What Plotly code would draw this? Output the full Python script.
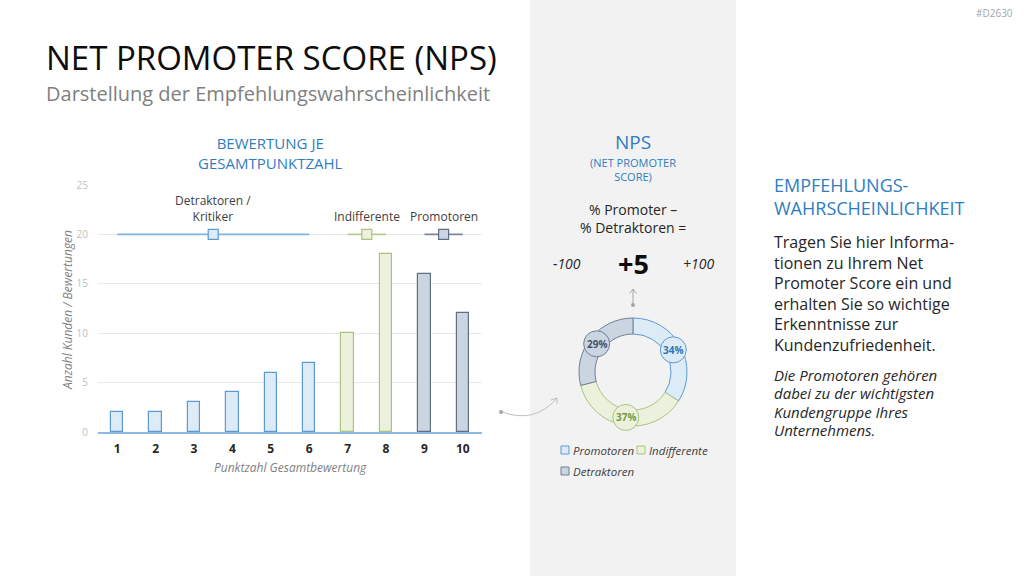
import math
import plotly.graph_objects as go

# ---------------- data ----------------
scores = [1, 2, 3, 4, 5, 6, 7, 8, 9, 10]
counts = [2, 2, 3, 4, 6, 7, 10, 18, 16, 12]
score_groups = ["Detraktoren", "Detraktoren", "Detraktoren", "Detraktoren", "Detraktoren",
                "Detraktoren", "Indifferente", "Indifferente", "Promotoren", "Promotoren"]
group_names = ["Detraktoren", "Indifferente", "Promotoren"]
group_labels = ["Detraktoren /<br>Kritiker", "Indifferente", "Promotoren"]
group_level = 20

donut_labels = ["Promotoren", "Indifferente", "Detraktoren"]
donut_values = [34, 37, 29]
nps_value = "+5"
y_ticks = [0, 5, 10, 15, 20, 25]

body_lines = ["Tragen Sie hier Informa-", "tionen zu Ihrem Net", "Promoter Score ein und",
              "erhalten Sie so wichtige", "Erkenntnisse zur", "Kundenzufriedenheit."]
italic_lines = ["Die Promotoren gehören", "dabei zu der wichtigsten", "Kundengruppe Ihres",
                "Unternehmens."]

# ---------------- styles ----------------
FONT = "Open Sans"
BLUE_TXT = "#2E7DC1"
fill = {"Detraktoren": "#DDEBF7", "Indifferente": "#EBF1DD", "Promotoren": "#CBD5E1"}
edge = {"Detraktoren": "#5B9BD5", "Indifferente": "#A9C47F", "Promotoren": "#5F6F85"}
line_col = {"Detraktoren": "#7FB2DD", "Indifferente": "#B5CD8E", "Promotoren": "#7A8799"}
# donut colours (as in reference legend)
dfill = {"Promotoren": "#DDEBF7", "Indifferente": "#EBF1DD", "Detraktoren": "#CBD5E1"}
dedge = {"Promotoren": "#5B9BD5", "Indifferente": "#A9C47F", "Detraktoren": "#6E7F96"}
dtext = {"Promotoren": "#2E75B6", "Indifferente": "#7A9A3A", "Detraktoren": "#44546A"}

W, H = 1024, 576
def px(x):
    return x / W
def py(y):
    return 1 - y / H

fig = go.Figure()

# bars
fig.add_trace(go.Bar(
    x=scores, y=counts, width=0.32,
    marker=dict(color=[fill[g] for g in score_groups],
                line=dict(color=[edge[g] for g in score_groups], width=1.2)),
    showlegend=False, hoverinfo="x+y",
))

annotations = []
# group range lines
for g, lab in zip(group_names, group_labels):
    xs = [s for s, gg in zip(scores, score_groups) if gg == g]
    lo, hi = min(xs), max(xs)
    mid = (lo + hi) / 2
    fig.add_trace(go.Scatter(x=[lo, hi], y=[group_level, group_level], mode="lines",
                             line=dict(color=line_col[g], width=1.6), showlegend=False,
                             hoverinfo="skip"))
    fig.add_trace(go.Scatter(x=[mid], y=[group_level], mode="markers",
                             marker=dict(symbol="square", size=10, color=fill[g],
                                         line=dict(color=edge[g], width=1.2)),
                             showlegend=False, hoverinfo="skip"))
    annotations.append(dict(x=mid, y=group_level, xref="x", yref="y", text=lab,
                            showarrow=False, xanchor="center", yanchor="bottom", yshift=7,
                            font=dict(family=FONT, size=12, color="#404040")))

fig.update_layout(
    width=W, height=H, margin=dict(l=0, r=0, t=0, b=0, pad=0, autoexpand=False),
    paper_bgcolor="white", plot_bgcolor="rgba(0,0,0,0)",
    bargap=0.0,
    xaxis=dict(domain=[px(98), px(482)], range=[0.5, 10.5], tickvals=scores,
               ticktext=[str(s) for s in scores], showgrid=False, zeroline=False,
               showline=True, linecolor="#8DB8E0", linewidth=2, automargin=False,
               tickfont=dict(family=FONT, size=12, color="#262626", weight="bold"),
               ticks="", ticklabelstandoff=5, fixedrange=True),
    yaxis=dict(domain=[py(432), py(185)], range=[0, 25], tickvals=y_ticks,
               showgrid=True, gridcolor="#E8E8E8", gridwidth=1, zeroline=False,
               automargin=False,
               tickfont=dict(family=FONT, size=10, color="#BFBFBF"),
               ticks="", ticklabelstandoff=9, fixedrange=True),
    showlegend=False,
)

shapes = []
# grey middle panel
shapes.append(dict(type="rect", xref="paper", yref="paper", x0=px(530), x1=px(736),
                   y0=0, y1=1, fillcolor="#F2F2F2", line=dict(width=0), layer="below"))

# donut
cx, cy, R, Rin = 633, 372, 54, 38
fig.add_trace(go.Pie(
    labels=donut_labels, values=donut_values, sort=False, direction="clockwise",
    rotation=0, hole=Rin / R, textinfo="none", showlegend=False, automargin=False,
    marker=dict(colors=[dfill[l] for l in donut_labels],
                line=dict(color=[dedge[l] for l in donut_labels], width=1)),
    domain=dict(x=[px(cx - R), px(cx + R)], y=[py(cy + R), py(cy - R)]),
))

# value bubbles on the donut (placed at slice mid-angles)
total = sum(donut_values)
acc = 0
rmid = (R + Rin) / 2
rb = 13
for lab, v in zip(donut_labels, donut_values):
    ang = (acc + v / 2) / total * 2 * math.pi
    acc += v
    bx = cx + rmid * math.sin(ang)
    by = cy - rmid * math.cos(ang)
    shapes.append(dict(type="circle", xref="paper", yref="paper",
                       x0=px(bx - rb), x1=px(bx + rb), y0=py(by + rb), y1=py(by - rb),
                       fillcolor=dfill[lab], line=dict(color=dedge[lab], width=1)))
    annotations.append(dict(x=px(bx), y=py(by), xref="paper", yref="paper",
                            text=f"<b>{v}%</b>", showarrow=False,
                            xanchor="center", yanchor="middle",
                            font=dict(family=FONT, size=10, color=dtext[lab])))

# donut legend
leg_items = [("Promotoren", 565, 450), ("Indifferente", 641, 450), ("Detraktoren", 565, 471)]
for lab, lx, ly in leg_items:
    shapes.append(dict(type="rect", xref="paper", yref="paper",
                       x0=px(lx - 4), x1=px(lx + 4), y0=py(ly + 4), y1=py(ly - 4),
                       fillcolor=dfill[lab], line=dict(color=dedge[lab], width=1)))
    annotations.append(dict(x=px(lx + 6), y=py(ly), xref="paper", yref="paper",
                            text=f"<i>{lab}</i>", showarrow=False,
                            xanchor="left", yanchor="middle",
                            font=dict(family=FONT, size=11.5, color="#404040")))

# up arrow from donut to score
shapes.append(dict(type="line", xref="paper", yref="paper", x0=px(633), x1=px(633),
                   y0=py(304), y1=py(289), line=dict(color="#A6A6A6", width=1)))
shapes.append(dict(type="path", xref="paper", yref="paper",
                   path=f"M {px(629.5)},{py(293.5)} L {px(633)},{py(289)} L {px(636.5)},{py(293.5)}",
                   line=dict(color="#A6A6A6", width=1)))
shapes.append(dict(type="circle", xref="paper", yref="paper", x0=px(631), x1=px(635),
                   y0=py(307), y1=py(303), fillcolor="#A6A6A6", line=dict(width=0)))

# curved arrow from chart to donut
shapes.append(dict(type="path", xref="paper", yref="paper",
                   path=f"M {px(502)},{py(412)} Q {px(535)},{py(424)} {px(557)},{py(398)}",
                   line=dict(color="#BFBFBF", width=1)))
shapes.append(dict(type="path", xref="paper", yref="paper",
                   path=f"M {px(551)},{py(400)} L {px(557)},{py(398)} L {px(557)},{py(404)}",
                   line=dict(color="#BFBFBF", width=1)))
shapes.append(dict(type="circle", xref="paper", yref="paper", x0=px(499), x1=px(503),
                   y0=py(414), y1=py(410), fillcolor="#A6A6A6", line=dict(width=0)))

def txt(x, y, text, size, color, anchor="left", **kw):
    annotations.append(dict(x=px(x), y=py(y), xref="paper", yref="paper", text=text,
                            showarrow=False, xanchor=anchor, yanchor="middle",
                            align=anchor,
                            font=dict(family=FONT, size=size, color=color), **kw))

# headings
txt(44, 57, "NET PROMOTER SCORE (NPS)", 33, "#0D0D0D")
txt(44, 93, "Darstellung der Empfehlungswahrscheinlichkeit", 20, "#7F7F7F")
txt(1015, 13, "#D2630", 10, "#A6A6A6", anchor="right")

# bar chart texts
txt(270, 153, "BEWERTUNG JE<br>GESAMTPUNKTZAHL", 15, BLUE_TXT, anchor="center")
annotations.append(dict(x=px(67), y=py(310), xref="paper", yref="paper",
                        text="<i>Anzahl Kunden / Bewertungen</i>", showarrow=False,
                        xanchor="center", yanchor="middle",
                        textangle=-90, font=dict(family=FONT, size=12, color="#7F7F7F")))
txt(290, 467, "<i>Punktzahl Gesamtbewertung</i>", 12, "#7F7F7F", anchor="center")

# NPS panel texts
txt(633, 142, "NPS", 19, BLUE_TXT, anchor="center")
txt(633, 169, "(NET PROMOTER<br>SCORE)", 11, BLUE_TXT, anchor="center")
txt(633, 218, "% Promoter –<br>% Detraktoren =", 14, "#262626", anchor="center")
txt(567, 264, "<i>-100</i>", 14, "#262626", anchor="center")
txt(633, 263, f"<b>{nps_value}</b>", 27, "#0D0D0D", anchor="center")
txt(698, 264, "<i>+100</i>", 14, "#262626", anchor="center")

# right text column
txt(772, 197, "EMPFEHLUNGS-<br>WAHRSCHEINLICHKEIT", 18, BLUE_TXT)
for i, line in enumerate(body_lines):
    txt(772, 242 + i * 20.6, line, 16, "#262626")
for i, line in enumerate(italic_lines):
    txt(772, 375 + i * 18.4, f"<i>{line}</i>", 15, "#262626")

fig.update_layout(shapes=shapes, annotations=annotations)
fig.write_html("out.html")
